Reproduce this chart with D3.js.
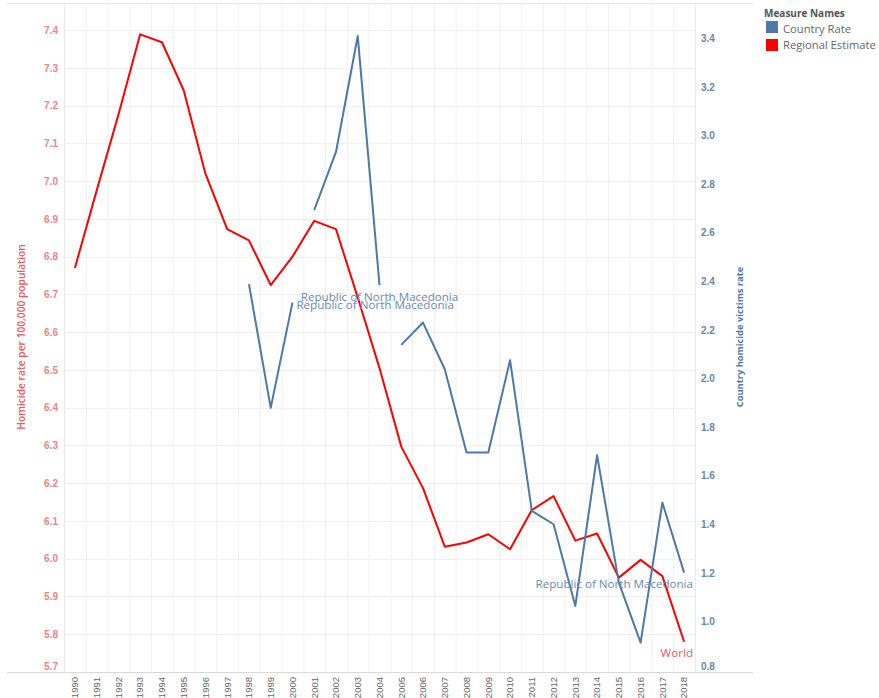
<!DOCTYPE html>
<html>
<head>
<meta charset="utf-8">
<script src="https://cdn.jsdelivr.net/npm/d3@7"></script>
<style>
  html, body { margin: 0; padding: 0; background: #ffffff; }
  svg { display: block; font-family: "Open Sans", "Noto Sans", sans-serif; }
</style>
</head>
<body>
<svg id="chart" width="879" height="698"></svg>
<script>
// ---------------- DATA ----------------
const years = [1990,1991,1992,1993,1994,1995,1996,1997,1998,1999,2000,2001,2002,2003,2004,
               2005,2006,2007,2008,2009,2010,2011,2012,2013,2014,2015,2016,2017,2018];

// Regional Estimate (World), left axis
const regionalEstimate = [6.77,6.975,7.176,7.389,7.368,7.241,7.02,6.873,6.843,6.725,6.80,6.895,6.873,6.692,6.505,
                          6.297,6.187,6.032,6.043,6.065,6.025,6.129,6.166,6.048,6.067,5.95,5.997,5.954,5.78];

// Country Rate (Republic of North Macedonia), right axis; null = no value
const countryRate = [null,null,null,null,null,null,null,null,2.388,1.879,2.312,2.693,2.932,3.409,2.384,
                     2.138,2.230,2.038,1.695,1.695,2.075,1.455,1.40,1.064,1.684,1.16,0.913,1.489,1.201];
// line segment each country value belongs to (lines break between segments)
const countrySegment = [null,null,null,null,null,null,null,null,0,0,0,1,1,1,1,
                        2,2,2,2,2,2,2,2,2,2,2,2,2,2];

const countryName = "Republic of North Macedonia";
const regionName = "World";

const leftTicks = [5.7,5.8,5.9,6.0,6.1,6.2,6.3,6.4,6.5,6.6,6.7,6.8,6.9,7.0,7.1,7.2,7.3,7.4];
const rightTicks = [0.8,1.0,1.2,1.4,1.6,1.8,2.0,2.2,2.4,2.6,2.8,3.0,3.2,3.4];

const legendTitle = "Measure Names";
const legendItems = ["Country Rate", "Regional Estimate"];
const leftTitle = "Homicide rate per 100,000 population";
const rightTitle = "Country homicide victims rate";

// ---------------- LAYOUT ----------------
const svg = d3.select("#chart");
const plot = { left: 64, right: 695, top: 3, bottom: 672 };
const C = {
  red: "#ff0000",
  blue: "#4e79a7",
  blueLabel: "#6a8bb3",
  redLabel: "#e8595b",
  leftTick: "#ea8587",
  leftTitle: "#ee5a5c",
  rightTick: "#6786ad",
  rightTitle: "#4e79a7",
  grid: "#f0f0f0",
  border: "#d9d9d9",
  text: "#666666"
};

const x = d3.scaleBand().domain(years).range([plot.left, plot.right]).paddingInner(0).paddingOuter(0);
const xc = yr => x(yr) + x.bandwidth() / 2;
const yL = d3.scaleLinear().domain([5.7, 7.472]).range([plot.bottom, plot.top]);
const yR = d3.scaleLinear().domain([0.792, 3.545]).range([plot.bottom, plot.top]);

// ---------------- GRID ----------------
const grid = svg.append("g");
grid.selectAll("line.v").data(years.slice(1)).enter().append("line")
  .attr("x1", d => x(d) + 0.5).attr("x2", d => x(d) + 0.5)
  .attr("y1", plot.top).attr("y2", plot.bottom)
  .attr("stroke", C.grid).attr("stroke-width", 1);
grid.selectAll("line.h").data(leftTicks).enter().append("line")
  .attr("x1", plot.left).attr("x2", plot.right)
  .attr("y1", d => Math.round(yL(d)) + 0.5).attr("y2", d => Math.round(yL(d)) + 0.5)
  .attr("stroke", C.grid).attr("stroke-width", 1);

// pane borders
svg.append("line").attr("x1", 7).attr("x2", 753).attr("y1", plot.top + 0.5).attr("y2", plot.top + 0.5)
  .attr("stroke", "#e2e2e2");
svg.append("line").attr("x1", 7).attr("x2", 753).attr("y1", plot.bottom + 0.5).attr("y2", plot.bottom + 0.5)
  .attr("stroke", C.border);
svg.append("line").attr("x1", plot.left + 0.5).attr("x2", plot.left + 0.5).attr("y1", plot.top).attr("y2", plot.bottom)
  .attr("stroke", "#ebebeb");
svg.append("line").attr("x1", plot.right + 0.5).attr("x2", plot.right + 0.5).attr("y1", plot.top).attr("y2", plot.bottom)
  .attr("stroke", "#ebebeb");

// ---------------- AXES ----------------
const fmt1 = d3.format(".1f");
const leftAxis = d3.axisLeft(yL).tickValues(leftTicks).tickFormat(fmt1).tickSize(0).tickPadding(0);
const gL = svg.append("g").attr("transform", `translate(${plot.left - 6},0)`).call(leftAxis);
gL.select(".domain").remove();
gL.selectAll("text")
  .attr("fill", C.leftTick).attr("font-size", "10px").attr("font-weight", "bold")
  .attr("y", d => Math.min(0, (plot.bottom - 6) - yL(d)));

const rightAxis = d3.axisRight(yR).tickValues(rightTicks).tickFormat(fmt1).tickSize(0).tickPadding(0);
const gR = svg.append("g").attr("transform", `translate(${plot.right + 6},0)`).call(rightAxis);
gR.select(".domain").remove();
gR.selectAll("text")
  .attr("fill", C.rightTick).attr("font-size", "10px").attr("font-weight", "bold")
  .attr("y", d => Math.min(0, (plot.bottom - 6) - yR(d)));

const bottomAxis = d3.axisBottom(x).tickSize(0).tickPadding(0);
const gB = svg.append("g").attr("transform", `translate(0,${plot.bottom})`).call(bottomAxis);
gB.select(".domain").remove();
gB.selectAll("text")
  .attr("fill", C.text).attr("font-size", "9.5px")
  .attr("transform", "rotate(-90)")
  .attr("text-anchor", "end")
  .attr("x", -5).attr("y", 0).attr("dy", "0.35em");

// axis titles
svg.append("text").attr("transform", `translate(21,337) rotate(-90)`)
  .attr("text-anchor", "middle").attr("dominant-baseline", "central")
  .attr("fill", C.leftTitle).attr("font-size", "10.2px").attr("font-weight", "600")
  .text(leftTitle);
svg.append("text").attr("transform", `translate(739,337) rotate(-90)`)
  .attr("text-anchor", "middle").attr("dominant-baseline", "central")
  .attr("fill", C.rightTitle).attr("font-size", "9.3px").attr("font-weight", "bold")
  .text(rightTitle);

// ---------------- LINES ----------------
const regionalPts = years.map((yr, i) => ({ yr, v: regionalEstimate[i] }));
svg.append("path").datum(regionalPts)
  .attr("fill", "none").attr("stroke", C.red).attr("stroke-width", 2).attr("stroke-linejoin", "round")
  .attr("d", d3.line().x(d => xc(d.yr)).y(d => yL(d.v)));

const countryPts = years.map((yr, i) => ({ yr, v: countryRate[i], seg: countrySegment[i] }))
  .filter(d => d.v !== null);
const segs = d3.groups(countryPts, d => d.seg);
svg.selectAll("path.country").data(segs).enter().append("path")
  .attr("fill", "none").attr("stroke", C.blue).attr("stroke-width", 2).attr("stroke-linejoin", "round")
  .attr("d", d => d3.line().x(p => xc(p.yr)).y(p => yR(p.v))(d[1]));

// ---------------- END LABELS ----------------
const labelFont = "11.6px";
const labelRightLimit = plot.right - 2;
function placeLabel(px, py, mode, text, color) {
  const t = svg.append("text").attr("fill", color).attr("font-size", labelFont)
    .attr("dominant-baseline", "central").text(text);
  const w = t.node().getComputedTextLength();
  let lx, ly;
  if (mode === "right") { lx = px + 4; ly = py + 2; }
  else { lx = px - w / 2; ly = py + 11; }
  if (lx + w > labelRightLimit) lx = labelRightLimit - w;
  t.attr("x", lx).attr("y", ly);
}
const labelModes = ["right", "below", "below"];
segs.forEach(([seg, pts]) => {
  const last = pts[pts.length - 1];
  placeLabel(xc(last.yr), yR(last.v), labelModes[seg], countryName, C.blueLabel);
});
const lastR = regionalPts[regionalPts.length - 1];
placeLabel(xc(lastR.yr), yL(lastR.v), "below", regionName, C.redLabel);

// ---------------- LEGEND ----------------
const lg = svg.append("g");
lg.append("text").attr("x", 764).attr("y", 13).attr("dominant-baseline", "central")
  .attr("fill", "#555555").attr("font-size", "10px").attr("font-weight", "bold").text(legendTitle);
const legendColors = [C.blue, C.red];
legendItems.forEach((name, i) => {
  lg.append("rect").attr("x", 766).attr("y", 21 + i * 18).attr("width", 12).attr("height", 12)
    .attr("fill", legendColors[i]);
  lg.append("text").attr("x", 783).attr("y", 28 + i * 16.5).attr("dominant-baseline", "central")
    .attr("fill", C.text).attr("font-size", "11.2px").text(name);
});
</script>
</body>
</html>
